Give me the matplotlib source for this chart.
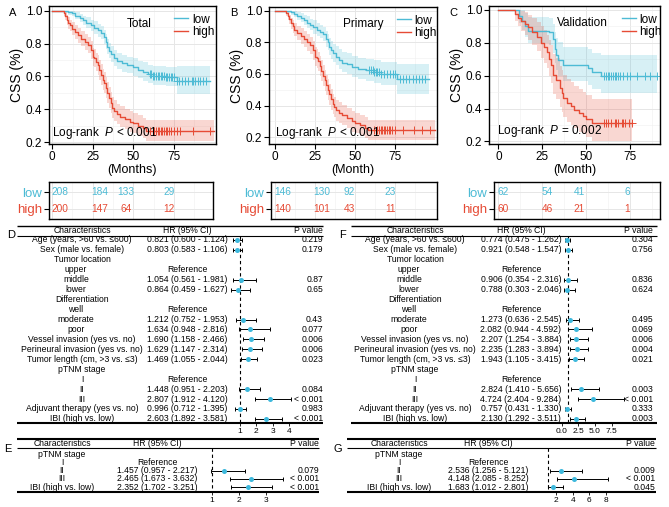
import matplotlib
matplotlib.use("Agg")
import matplotlib.pyplot as plt
import numpy as np

plt.rcParams['font.family'] = ['Liberation Sans', 'DejaVu Sans']
plt.rcParams['mathtext.fontset'] = 'custom'
plt.rcParams['mathtext.rm'] = 'Liberation Sans'
plt.rcParams['mathtext.it'] = 'Liberation Sans:italic'

W, H = 669, 507
BLUE = '#4DBBD5'
RED = '#E64B35'
DOT = '#3DB8DC'

# ---------------- KM data ----------------
A_low_t = [0, 8, 10, 12, 14, 17, 19, 21, 24, 26, 28, 30, 32, 33, 34, 35, 36, 38, 40, 43, 46, 50, 53, 56, 59, 62, 70, 77]
A_low_s = [1.0, 0.995, 0.99, 0.984, 0.97, 0.955, 0.94, 0.925, 0.91, 0.895, 0.88, 0.865, 0.84, 0.81, 0.78, 0.755, 0.735, 0.71, 0.695, 0.68, 0.67, 0.655, 0.64, 0.63, 0.615, 0.605, 0.598, 0.574]
A_low_lo = [1.0, 0.985, 0.975, 0.965, 0.95, 0.93, 0.91, 0.895, 0.875, 0.86, 0.84, 0.825, 0.80, 0.765, 0.735, 0.71, 0.69, 0.665, 0.645, 0.63, 0.62, 0.605, 0.59, 0.575, 0.56, 0.55, 0.54, 0.495]
A_low_hi = [1.0, 1.0, 1.0, 1.0, 0.99, 0.98, 0.97, 0.96, 0.945, 0.935, 0.92, 0.905, 0.885, 0.855, 0.83, 0.805, 0.785, 0.76, 0.745, 0.73, 0.72, 0.71, 0.695, 0.685, 0.67, 0.665, 0.66, 0.665]
A_low_cens = [60, 61, 62, 63, 64, 65, 66, 67, 68, 69, 70, 71, 72, 73, 74, 75, 77, 78, 80, 82, 84, 86, 87, 88, 90, 91, 93, 95]
A_low_end = 97

A_high_t = [0, 7, 8, 9, 10, 11, 12, 14, 16, 18, 20, 22, 24, 25, 26, 27, 28, 29, 30, 31, 32, 33, 34, 35, 36, 37, 38, 40, 42, 45, 48, 50, 53, 56, 58]
A_high_s = [1.0, 0.985, 0.965, 0.945, 0.925, 0.91, 0.89, 0.87, 0.85, 0.83, 0.81, 0.79, 0.76, 0.72, 0.71, 0.69, 0.67, 0.64, 0.61, 0.58, 0.56, 0.53, 0.50, 0.47, 0.44, 0.41, 0.39, 0.37, 0.355, 0.34, 0.325, 0.315, 0.30, 0.285, 0.27]
A_high_lo = [1.0, 0.965, 0.94, 0.915, 0.89, 0.875, 0.85, 0.83, 0.805, 0.785, 0.76, 0.74, 0.705, 0.665, 0.655, 0.635, 0.61, 0.58, 0.55, 0.52, 0.50, 0.47, 0.44, 0.41, 0.38, 0.35, 0.33, 0.31, 0.295, 0.28, 0.265, 0.255, 0.24, 0.225, 0.21]
A_high_hi = [1.0, 1.0, 0.99, 0.975, 0.96, 0.945, 0.93, 0.91, 0.895, 0.875, 0.86, 0.84, 0.815, 0.775, 0.765, 0.745, 0.73, 0.70, 0.675, 0.645, 0.625, 0.595, 0.565, 0.535, 0.505, 0.475, 0.455, 0.435, 0.42, 0.405, 0.39, 0.38, 0.365, 0.35, 0.335]
A_high_cens = [60, 62, 63, 64, 65, 66, 67, 68, 69, 70, 71, 72, 73, 75, 77, 79, 87, 97]
A_high_end = 100

B_low_t = [0, 8, 10, 12, 14, 16, 18, 20, 22, 24, 26, 28, 30, 32, 33, 34, 35, 36, 38, 40, 42, 45, 48, 52, 57, 62, 66, 76]
B_low_s = [1.0, 0.995, 0.99, 0.98, 0.965, 0.955, 0.94, 0.925, 0.91, 0.895, 0.88, 0.865, 0.85, 0.82, 0.80, 0.77, 0.75, 0.73, 0.71, 0.69, 0.67, 0.66, 0.645, 0.63, 0.625, 0.615, 0.60, 0.565]
B_low_lo = [1.0, 0.985, 0.975, 0.96, 0.94, 0.93, 0.91, 0.89, 0.875, 0.855, 0.84, 0.825, 0.805, 0.77, 0.75, 0.72, 0.695, 0.675, 0.655, 0.63, 0.61, 0.60, 0.58, 0.565, 0.555, 0.545, 0.53, 0.47]
B_low_hi = [1.0, 1.0, 1.0, 1.0, 0.99, 0.985, 0.975, 0.965, 0.95, 0.94, 0.925, 0.91, 0.895, 0.87, 0.855, 0.825, 0.81, 0.79, 0.775, 0.755, 0.74, 0.73, 0.715, 0.70, 0.695, 0.69, 0.675, 0.665]
B_low_cens = [59, 60, 61, 62, 63, 64, 65, 66, 68, 70, 72, 74, 75, 78, 80, 82, 84, 86, 88, 90, 92, 94]
B_low_end = 96

B_high_t = [0, 7, 8, 9, 10, 11, 12, 14, 16, 18, 20, 22, 24, 25, 26, 27, 28, 29, 30, 31, 32, 33, 34, 35, 36, 37, 38, 40, 42, 45, 48, 50, 53, 56, 58]
B_high_s = [1.0, 0.985, 0.965, 0.945, 0.92, 0.90, 0.88, 0.86, 0.84, 0.82, 0.80, 0.78, 0.75, 0.71, 0.70, 0.68, 0.65, 0.62, 0.59, 0.56, 0.53, 0.50, 0.47, 0.44, 0.41, 0.39, 0.37, 0.355, 0.34, 0.32, 0.30, 0.29, 0.275, 0.26, 0.245]
B_high_lo = [1.0, 0.965, 0.94, 0.915, 0.885, 0.86, 0.84, 0.815, 0.79, 0.77, 0.745, 0.725, 0.69, 0.65, 0.64, 0.62, 0.585, 0.555, 0.525, 0.495, 0.465, 0.435, 0.405, 0.375, 0.345, 0.325, 0.305, 0.29, 0.275, 0.255, 0.235, 0.225, 0.21, 0.195, 0.18]
B_high_hi = [1.0, 1.0, 0.99, 0.975, 0.955, 0.94, 0.925, 0.905, 0.89, 0.87, 0.855, 0.835, 0.81, 0.77, 0.76, 0.74, 0.715, 0.685, 0.655, 0.625, 0.595, 0.565, 0.535, 0.505, 0.475, 0.455, 0.435, 0.42, 0.405, 0.385, 0.365, 0.355, 0.34, 0.325, 0.31]
B_high_cens = [62, 64, 65, 66, 67, 68, 69, 70, 71, 72, 73, 75, 80, 87, 92, 97]
B_high_end = 100

C_low_t = [0, 12, 13.5, 15, 17, 29, 31, 32, 33, 34, 36.5, 51, 53, 58.5]
C_low_s = [1.0, 0.964, 0.934, 0.904, 0.874, 0.864, 0.824, 0.764, 0.724, 0.694, 0.664, 0.644, 0.62, 0.598]
C_low_lo = [1.0, 0.92, 0.875, 0.835, 0.80, 0.785, 0.74, 0.675, 0.635, 0.60, 0.57, 0.545, 0.52, 0.495]
C_low_hi = [1.0, 1.0, 1.0, 0.98, 0.955, 0.95, 0.915, 0.865, 0.83, 0.805, 0.775, 0.76, 0.74, 0.725]
C_low_cens = [60, 61, 62, 63, 64, 65, 66, 67, 68, 69, 71, 73, 75, 79, 83, 86, 90]
C_low_end = 90

C_high_t = [0, 9.5, 11, 13, 15, 17, 19, 22, 24, 26, 27.5, 28.5, 30, 31, 33, 35, 36, 37, 39, 41, 43, 46, 48, 50, 53]
C_high_s = [1.0, 0.974, 0.954, 0.934, 0.914, 0.894, 0.864, 0.834, 0.80, 0.774, 0.744, 0.704, 0.664, 0.604, 0.574, 0.524, 0.494, 0.464, 0.434, 0.414, 0.394, 0.374, 0.354, 0.334, 0.314]
C_high_lo = [1.0, 0.93, 0.90, 0.87, 0.845, 0.82, 0.785, 0.75, 0.71, 0.68, 0.645, 0.60, 0.555, 0.49, 0.46, 0.41, 0.38, 0.35, 0.32, 0.30, 0.28, 0.26, 0.245, 0.225, 0.205]
C_high_hi = [1.0, 1.0, 1.0, 0.995, 0.985, 0.97, 0.95, 0.925, 0.90, 0.875, 0.85, 0.815, 0.785, 0.73, 0.705, 0.66, 0.635, 0.605, 0.58, 0.56, 0.54, 0.52, 0.50, 0.48, 0.46]
C_high_cens = [60, 61, 62, 64, 66, 67, 68, 70, 71, 72, 74, 76]
C_high_end = 76

# numbers at risk
risk_groups = ['low', 'high']
A_risk_t = [4.8, 29.5, 45.5, 72]
A_risk = {'low': [208, 184, 133, 29], 'high': [200, 147, 64, 12]}
B_risk_t = [5, 29.4, 46.3, 71.9]
B_risk = {'low': [146, 130, 92, 23], 'high': [140, 101, 43, 11]}
C_risk_t = [2.7, 27.7, 45.9, 73.1]
C_risk = {'low': [62, 54, 41, 6], 'high': [60, 46, 21, 1]}

# ---------------- Cox data ----------------
nan = np.nan
D_labels = ["Age (years, >60 vs. ≤600)", "Sex (male vs. female)", "Tumor location", "upper", "middle", "lower",
            "Differentiation", "well", "moderate", "poor", "Vessel invasion (yes vs. no)",
            "Perineural invasion (yes vs. no)", "Tumor length (cm, >3 vs. ≤3)", "pTNM stage", "I", "II", "III",
            "Adjuvant therapy (yes vs. no)", "IBI (high vs. low)"]
D_hr = [0.821, 0.803, nan, nan, 1.054, 0.864, nan, nan, 1.212, 1.634, 1.690, 1.629, 1.469, nan, nan, 1.448, 2.807, 0.996, 2.603]
D_lo = [0.600, 0.583, nan, nan, 0.561, 0.459, nan, nan, 0.752, 0.948, 1.158, 1.147, 1.055, nan, nan, 0.951, 1.912, 0.712, 1.892]
D_hi = [1.124, 1.106, nan, nan, 1.981, 1.627, nan, nan, 1.953, 2.816, 2.466, 2.314, 2.044, nan, nan, 2.203, 4.120, 1.395, 3.581]
D_p = ["0.219", "0.179", "", "", "0.87", "0.65", "", "", "0.43", "0.077", "0.006", "0.006", "0.023", "", "", "0.084", "< 0.001", "0.983", "< 0.001"]

F_labels = D_labels
F_hr = [0.774, 0.921, nan, nan, 0.906, 0.788, nan, nan, 1.273, 2.082, 2.207, 2.235, 1.943, nan, nan, 2.824, 4.724, 0.757, 2.130]
F_lo = [0.475, 0.548, nan, nan, 0.354, 0.303, nan, nan, 0.636, 0.944, 1.254, 1.283, 1.105, nan, nan, 1.410, 2.404, 0.431, 1.292]
F_hi = [1.262, 1.547, nan, nan, 2.316, 2.046, nan, nan, 2.545, 4.592, 3.884, 3.894, 3.415, nan, nan, 5.656, 9.284, 1.330, 3.511]
F_p = ["0.304", "0.756", "", "", "0.836", "0.624", "", "", "0.495", "0.069", "0.006", "0.004", "0.021", "", "", "0.003", "< 0.001", "0.333", "0.003"]

E_labels = ["pTNM stage", "I", "II", "III", "IBI (high vs. low)"]
E_hr = [nan, nan, 1.457, 2.465, 2.352]
E_lo = [nan, nan, 0.957, 1.673, 1.702]
E_hi = [nan, nan, 2.217, 3.632, 3.251]
E_p = ["", "", "0.079", "< 0.001", "< 0.001"]

G_labels = E_labels
G_hr = [nan, nan, 2.536, 4.148, 1.683]
G_lo = [nan, nan, 1.256, 2.085, 1.012]
G_hi = [nan, nan, 5.121, 8.252, 2.801]
G_p = ["", "", "0.009", "< 0.001", "0.045"]

REF_LEVELS = {"upper", "well", "I"}
SUB_LEVELS = {"upper", "middle", "lower", "well", "moderate", "poor"}

fig = plt.figure(figsize=(W / 100, H / 100), dpi=100)


def px_axes(x0, y0, x1, y1):
    return fig.add_axes([x0 / W, 1 - y1 / H, (x1 - x0) / W, (y1 - y0) / H])


def km_panel(box, xlim, ylim, groups, title, title_xy, ptxt, p_xy, xlabel, leg_x):
    ax = px_axes(*box)
    for t, s, lo, hi, cens, t_end, col, name in groups:
        tt = list(t) + [t_end]
        ax.fill_between(tt, list(lo) + [lo[-1]], list(hi) + [hi[-1]], step='post',
                        color=col, alpha=0.22, lw=0)
        ax.step(tt, list(s) + [s[-1]], where='post', color=col, lw=1.0, label=name)
        idx = np.searchsorted(t, cens, side='right') - 1
        ax.plot(cens, np.array(s)[idx], '+', color=col, ms=5.5, mew=0.7)
    ax.set_xlim(*xlim)
    ax.set_ylim(*ylim)
    ax.set_xticks([0, 25, 50, 75])
    ax.set_xticks([12.5, 37.5, 62.5, 87.5], minor=True)
    ax.set_yticks([0.2, 0.4, 0.6, 0.8, 1.0])
    ax.set_yticklabels(['0.2', '0.4', '0.6', '0.8', '1.0'])
    ax.set_yticks([0.3, 0.5, 0.7, 0.9], minor=True)
    ax.grid(which='major', color='#E6E6E6', lw=0.7)
    ax.grid(which='minor', color='#F0F0F0', lw=0.4)
    ax.set_axisbelow(True)
    ax.tick_params(which='major', labelsize=8.5, length=3.5, width=0.8, pad=1.5)
    ax.tick_params(which='minor', length=0)
    for sp in ax.spines.values():
        sp.set_linewidth(1.0)
    ax.set_ylabel('CSS (%)', fontsize=10, labelpad=1)
    ax.set_xlabel(xlabel, fontsize=9, labelpad=0.5)
    ax.text(title_xy[0], title_xy[1], title, ha='center', va='center', fontsize=8.5)
    ax.text(p_xy[0], p_xy[1], ptxt, ha='left', va='center', fontsize=8.5)
    h, l = ax.get_legend_handles_labels()
    ax.legend(h, l, loc='upper left', bbox_to_anchor=(leg_x, 0.945), frameon=False, fontsize=8.5,
              handlelength=1.2, handletextpad=0.3, labelspacing=0.05, borderaxespad=0, borderpad=0)
    return ax


def risk_table(box, xlim, times, counts):
    ax = px_axes(*box)
    ax.set_xlim(*xlim)
    ax.set_ylim(-0.65, 1.65)
    cols = {'low': BLUE, 'high': RED}
    ypos = {'low': 1, 'high': 0}
    for g in risk_groups:
        for t, n in zip(times, counts[g]):
            ax.text(t, ypos[g], str(n), color=cols[g], ha='center', va='center', fontsize=7.3)
    ax.set_yticks([ypos[g] for g in risk_groups])
    ax.set_yticklabels(risk_groups, fontsize=9.5)
    for lab, g in zip(ax.get_yticklabels(), risk_groups):
        lab.set_color(cols[g])
    ax.set_xticks([0, 25, 50, 75])
    ax.set_xticks([12.5, 37.5, 62.5, 87.5], minor=True)
    ax.set_xticklabels([])
    ax.tick_params(axis='x', which='both', length=0)
    ax.tick_params(axis='y', length=3.5, width=0.8, pad=1.5)
    ax.grid(which='major', color='#E6E6E6', lw=0.7)
    ax.grid(which='minor', axis='x', color='#F0F0F0', lw=0.4)
    ax.set_axisbelow(True)
    for sp in ax.spines.values():
        sp.set_linewidth(1.0)


def forest(lay, labels, hr, lo, hi, pv, letter):
    x0, x1, y0, y1 = lay['x0'], lay['x1'], lay['y0'], lay['y1']
    tab = px_axes(x0, y0, x1, y1)
    tab.set_xlim(x0, x1)
    tab.set_ylim(y1, y0)
    tab.axis('off')
    fs = 6.2
    rows = lay['row0'] + lay['step'] * np.arange(len(labels))
    tab.hlines(lay['top'], x0, x1, color='black', lw=lay['top_lw'], clip_on=False)
    tab.hlines(lay['hline'], x0, x1, color='black', lw=0.8, clip_on=False)
    tab.hlines(y1, x0, x1, color='black', lw=1.5, clip_on=False)
    tab.text(lay['char_x'], lay['head'], 'Characteristics', ha='center', va='center', fontsize=fs)
    tab.text(lay['hr_x'], lay['head'], 'HR (95% CI)', ha='center', va='center', fontsize=fs)
    tab.text(lay['p_x'], lay['head'], 'P value', ha='right', va='center', fontsize=fs)
    for y, lab, h, l, u, p in zip(rows, labels, hr, lo, hi, pv):
        cx = lay['char_x'] - (6 if lab in SUB_LEVELS else 0)
        tab.text(cx, y, lab, ha='center', va='center', fontsize=fs)
        if lab in REF_LEVELS:
            tab.text(lay['hr_x'], y, 'Reference', ha='center', va='center', fontsize=fs)
        elif not np.isnan(h):
            tab.text(lay['hr_x'], y, f"{h:.3f} ({l:.3f} - {u:.3f})", ha='center', va='center', fontsize=fs)
        if p:
            tab.text(lay['p_x'], y, p, ha='right', va='center', fontsize=fs)
    fig.text(lay['let_x'] / W, 1 - lay['let_y'] / H, letter, ha='center', va='center', fontsize=8)

    fp = px_axes(lay['fx0'], y0, lay['fx1'], y1)
    fp.set_xlim(*lay['xlim'])
    fp.set_ylim(y1, y0)
    fp.patch.set_alpha(0)
    for sp in fp.spines.values():
        sp.set_visible(False)
    fp.set_yticks([])
    fp.set_xticks(lay['ticks'])
    fp.set_xticklabels(lay['ticklabels'])
    fp.tick_params(axis='x', labelsize=6, length=2.5, width=0.6, pad=1)
    fp.vlines(1, lay['hline'], y1, colors='black', lw=0.8, linestyles=(0, (3, 2.5)))
    hr_a, lo_a, hi_a = np.array(hr), np.array(lo), np.array(hi)
    ok = ~np.isnan(hr_a)
    fp.errorbar(hr_a[ok], rows[ok], xerr=[hr_a[ok] - lo_a[ok], hi_a[ok] - hr_a[ok]], fmt='none',
                ecolor='black', elinewidth=0.7, capsize=1.5, capthick=0.7)
    fp.scatter(hr_a[ok], rows[ok], s=13, color=DOT, zorder=3, lw=0)


# ---------------- KM panels ----------------
axA = km_panel((49, 6, 216, 144), (-2, 101), (0.19, 1.028),
               [(A_low_t, A_low_s, A_low_lo, A_low_hi, A_low_cens, A_low_end, BLUE, 'low'),
                (A_high_t, A_high_s, A_high_lo, A_high_hi, A_high_cens, A_high_end, RED, 'high')],
               'Total', (53.5, 0.92), r'Log-rank  $\it{P}$ < 0.001', (0, 0.257), '(Months)', 0.75)
axB = km_panel((269, 7, 437, 144), (-3.75, 101.25), (0.157, 1.023),
               [(B_low_t, B_low_s, B_low_lo, B_low_hi, B_low_cens, B_low_end, BLUE, 'low'),
                (B_high_t, B_high_s, B_high_lo, B_high_hi, B_high_cens, B_high_end, RED, 'high')],
               'Primary', (55, 0.915), r'Log-rank  $\it{P}$ < 0.001', (0, 0.225), '(Month)', 0.76)
axC = km_panel((489, 6, 660, 144), (-5.3, 91.8), (0.184, 1.024),
               [(C_low_t, C_low_s, C_low_lo, C_low_hi, C_low_cens, C_low_end, BLUE, 'low'),
                (C_high_t, C_high_s, C_high_lo, C_high_hi, C_high_cens, C_high_end, RED, 'high')],
               'Validation', (48, 0.92), r'Log-rank  $\it{P}$ = 0.002', (-0.5, 0.264), '(Month)', 0.775)
for let, x in (('A', 13), ('B', 234), ('C', 453)):
    fig.text(x / W, 1 - 13 / H, let, ha='center', va='center', fontsize=8)

risk_table((49, 182, 213, 219), (-2, 99.2), A_risk_t, A_risk)
risk_table((271, 182, 437, 219), (-2.5, 101.25), B_risk_t, B_risk)
risk_table((494, 182, 660, 219), (-2.4, 91.9), C_risk_t, C_risk)

# ---------------- forest panels ----------------
lay_D = dict(x0=17, x1=323, y0=225, y1=423, top=225.7, top_lw=1.0, head=230.5, hline=235.7,
             row0=240, step=9.94, char_x=82, hr_x=187, p_x=323,
             fx0=228, fx1=295, xlim=(0.268, 4.354), ticks=[1, 2, 3, 4], ticklabels=['1', '2', '3', '4'],
             let_x=11, let_y=235)
lay_F = dict(x0=351, x1=657, y0=225, y1=423, top=225.7, top_lw=1.0, head=230.5, hline=235.7,
             row0=240, step=9.94, char_x=415, hr_x=521, p_x=653,
             fx0=555, fx1=630, xlim=(-1.0, 10.24), ticks=[0, 2.5, 5, 7.5],
             ticklabels=['0.0', '2.5', '5.0', '7.5'], let_x=343, let_y=235)
lay_E = dict(x0=17, x1=319, y0=438, y1=492.3, top=438.5, top_lw=1.5, head=443.5, hline=448,
             row0=454, step=8.25, char_x=62, hr_x=157, p_x=319,
             fx0=200, fx1=300, xlim=(0.552, 4.284), ticks=[1, 2, 3], ticklabels=['1', '2', '3'],
             let_x=8, let_y=449)
lay_G = dict(x0=347, x1=656, y0=438, y1=492.3, top=438.5, top_lw=1.5, head=443.5, hline=448,
             row0=454, step=8.25, char_x=399, hr_x=488, p_x=655,
             fx0=540, fx1=630, xlim=(0.078, 10.86), ticks=[2, 4, 6, 8], ticklabels=['2', '4', '6', '8'],
             let_x=338, let_y=449)

forest(lay_D, D_labels, D_hr, D_lo, D_hi, D_p, 'D')
forest(lay_F, F_labels, F_hr, F_lo, F_hi, F_p, 'F')
forest(lay_E, E_labels, E_hr, E_lo, E_hi, E_p, 'E')
forest(lay_G, G_labels, G_hr, G_lo, G_hi, G_p, 'G')

fig.savefig('out.png', dpi=100)
